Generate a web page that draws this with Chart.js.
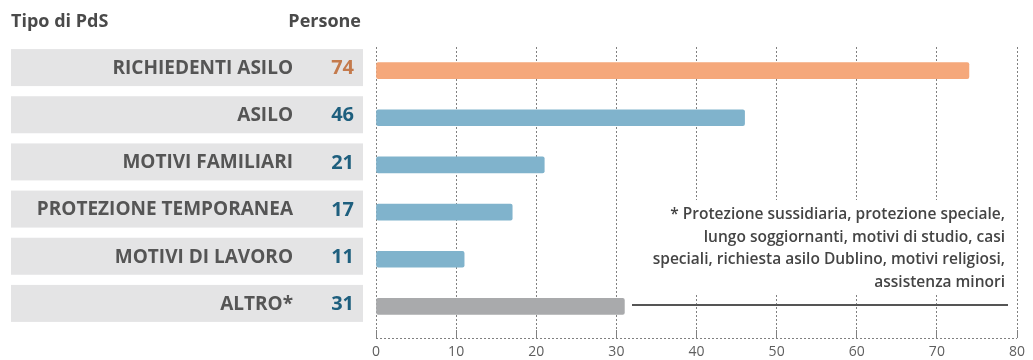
<!DOCTYPE html>
<html>
<head>
<meta charset="utf-8">
<script src="https://cdn.jsdelivr.net/npm/chart.js@4"></script>
<style>
  body { margin: 0; background: #fff; }
</style>
</head>
<body>
<canvas id="pdsChart" width="1033" height="360"></canvas>
<script>
const categories = ['RICHIEDENTI ASILO', 'ASILO', 'MOTIVI FAMILIARI', 'PROTEZIONE TEMPORANEA', 'MOTIVI DI LAVORO', 'ALTRO*'];
const persone = [74, 46, 21, 17, 11, 31];
const barColors = ['#f5a87b', '#80b3cc', '#80b3cc', '#80b3cc', '#80b3cc', '#a9aaac'];
const valueColors = ['#c47a4c', '#1e5f7e', '#1e5f7e', '#1e5f7e', '#1e5f7e', '#1e5f7e'];
const footnote = [
    '* Protezione sussidiaria, protezione speciale,',
    'lungo soggiornanti, motivi di studio, casi',
    'speciali, richiesta asilo Dublino, motivi religiosi,',
    'assistenza minori'
];

const FONT = '"Open Sans", Lato, sans-serif';

// left-hand label boxes, header, footnote and the bottom dotted rule
const decorations = {
    id: 'decorations',
    afterDraw(chart) {
        const ctx = chart.ctx;
        const y = chart.scales.y;
        const area = chart.chartArea;
        ctx.save();

        ctx.font = 'bold 18px ' + FONT;
        ctx.fillStyle = '#4a4a4a';
        ctx.textBaseline = 'middle';
        ctx.textAlign = 'left';
        ctx.fillText('Tipo di PdS', 11, 22);
        ctx.textAlign = 'right';
        ctx.fillText('Persone', 361, 22);

        categories.forEach((label, i) => {
            const cy = y.getPixelForValue(i) - 3;
            ctx.fillStyle = '#e4e4e5';
            ctx.fillRect(11, cy - 18.5, 352, 37);
            ctx.font = 'bold 19px ' + FONT;
            ctx.textAlign = 'right';
            ctx.fillStyle = '#555555';
            ctx.fillText(label, 293, cy + 1);
            ctx.font = 'bold 20px ' + FONT;
            ctx.fillStyle = valueColors[i];
            ctx.fillText(String(persone[i]), 354, cy + 1);
        });

        // bottom dotted rule
        ctx.strokeStyle = '#808080';
        ctx.lineWidth = 1;
        ctx.setLineDash([2, 2]);
        ctx.beginPath();
        ctx.moveTo(area.left, area.bottom + 8.5);
        ctx.lineTo(area.right, area.bottom + 8.5);
        ctx.stroke();
        ctx.setLineDash([]);

        // footnote panel
        ctx.fillStyle = '#ffffff';
        ctx.fillRect(640, 200, 368, 95);
        ctx.font = '600 15.5px ' + FONT;
        ctx.fillStyle = '#444444';
        ctx.textAlign = 'right';
        footnote.forEach((line, i) => ctx.fillText(line, 1005, 215 + i * 22.5));

        ctx.strokeStyle = '#555555';
        ctx.lineWidth = 2;
        ctx.beginPath();
        ctx.moveTo(632, 305);
        ctx.lineTo(1008, 305);
        ctx.stroke();

        ctx.restore();
    }
};

new Chart(document.getElementById('pdsChart'), {
    type: 'bar',
    data: {
        labels: categories,
        datasets: [{
            label: 'Persone',
            data: persone,
            backgroundColor: barColors,
            borderRadius: 2,
            borderSkipped: false,
            barThickness: 16
        }]
    },
    options: {
        indexAxis: 'y',
        responsive: false,
        animation: false,
        layout: { padding: { left: 376, right: 16, top: 47, bottom: 0 } },
        plugins: { legend: { display: false }, tooltip: { enabled: false } },
        scales: {
            x: {
                min: 0,
                max: 80,
                afterFit(scale) { scale.height = 30; },
                ticks: { stepSize: 10, padding: 6, color: '#5e5e5e', font: { family: FONT, size: 14 } },
                grid: { color: '#808080', lineWidth: 1, tickLength: 8, tickColor: '#808080' },
                border: { display: true, width: 0, color: 'rgba(0,0,0,0)', dash: [2, 2] }
            },
            y: { display: false }
        }
    },
    plugins: [decorations]
});
</script>
</body>
</html>
